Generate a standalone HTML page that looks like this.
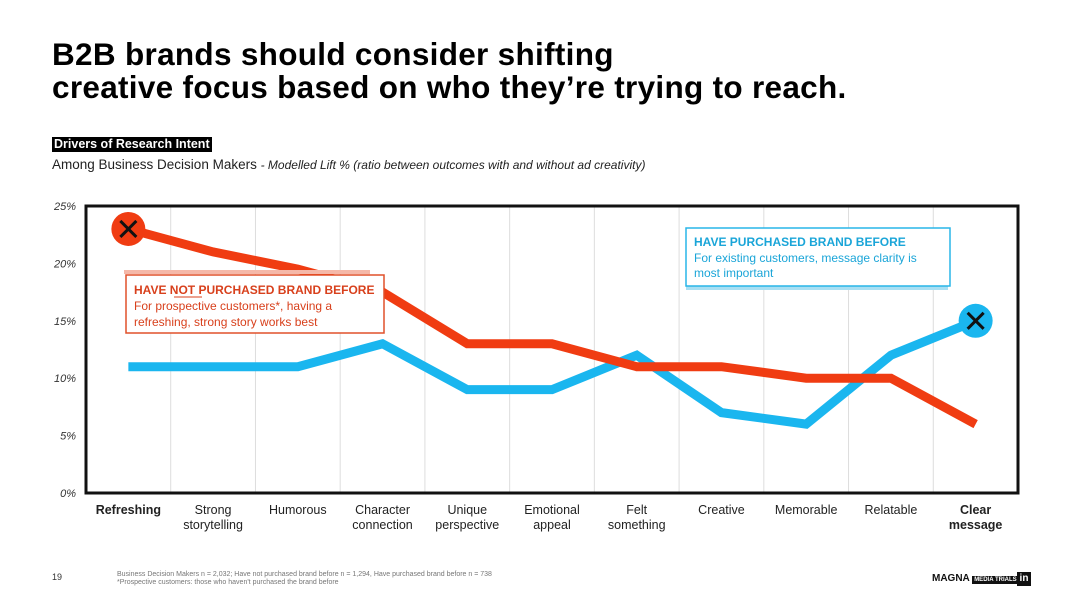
<!DOCTYPE html>
<html><head><meta charset="utf-8"><style>
body{margin:0;width:1080px;height:608px;background:#fff;font-family:"Liberation Sans",sans-serif;overflow:hidden;position:relative}
.t{position:absolute}
</style></head><body>
<div class="t" style="left:52px;top:38px;font-size:31.5px;font-weight:bold;line-height:33px;color:#000;letter-spacing:0.3px">B2B brands should consider shifting<br>creative focus based on who they’re trying to reach.</div>
<div class="t" style="left:52px;top:137px;background:#000;color:#fff;font-size:12.5px;font-weight:bold;padding:0 2px;line-height:15px">Drivers of Research Intent</div>
<div class="t" style="left:52px;top:157px;font-size:13.5px;color:#222">Among Business Decision Makers <i style="font-size:12px">- Modelled Lift % (ratio between outcomes with and without ad creativity)</i></div>
<svg class="t" style="left:0;top:0" width="1080" height="608">
<g id="g"></g>
</svg>
<div class="t" style="left:117px;top:571px;font-size:7px;color:#777;line-height:8px">Business Decision Makers n = 2,032; Have not purchased brand before n = 1,294, Have purchased brand before n = 738<br>*Prospective customers: those who haven't purchased the brand before</div>
<div class="t" style="left:52px;top:572px;font-size:9px;color:#333">19</div>
<div class="t" style="left:932px;top:573px;font-size:10px;font-weight:bold;color:#111;white-space:nowrap">MAGNA <span style="background:#111;color:#fff;font-size:6px;padding:1px 2px">MEDIA TRIALS</span></div>
<div class="t" style="left:1017px;top:572px;width:14px;height:14px;background:#111;color:#fff;font-size:10px;font-weight:bold;text-align:center;line-height:14px">in</div>
<script>
const categories=["Refreshing","Strong storytelling","Humorous","Character connection","Unique perspective","Emotional appeal","Felt something","Creative","Memorable","Relatable","Clear message"];
const notPurchased=[23,21,19.5,17.5,13,13,11,11,10,10,6];
const purchased=[11,11,11,13,9,9,12,7,6,12,15];
const yTicks=[0,5,10,15,20,25];
const NS="http://www.w3.org/2000/svg";
const g=document.getElementById('g');
const L=86,R=1018,T=206,B=493,step=(R-L)/categories.length;
const x=i=>L+step*(i+0.5), y=v=>B-(v/25)*(B-T);
function el(t,a,p){const e=document.createElementNS(NS,t);for(const k in a)e.setAttribute(k,a[k]);(p||g).appendChild(e);return e;}
for(let i=1;i<categories.length;i++){const l=el('line',{x1:L+step*i,x2:L+step*i,y1:T,y2:B,stroke:'#ddd','stroke-width':1});

}
yTicks.forEach(v=>{const t=el('text',{x:76,y:y(v)+4,'text-anchor':'end','font-size':11,'font-style':'italic',fill:'#333','font-family':'Liberation Sans'});t.textContent=v+'%';

});
categories.forEach((c,i)=>{const bold=(i==0||i==categories.length-1);const w=c.split(' ');const t=el('text',{x:x(i),y:514,'text-anchor':'middle','font-size':12.5,fill:'#222','font-weight':bold?'bold':'normal','font-family':'Liberation Sans'});


if(i==0){t.textContent=c;}else{w.forEach((s,j)=>{const ts=el('tspan',{x:x(i),dy:j?15:0},t);ts.textContent=s;});}});
function line(vals,col,name){const p=el('polyline',{points:vals.map((v,i)=>x(i)+','+y(v)).join(' '),fill:'none',stroke:col,'stroke-width':9,'stroke-linejoin':'miter'});

}
line(purchased,'#1ab6ef','line-purchased');
line(notPurchased,'#f03c12','line-not-purchased');
el('rect',{x:L,y:T,width:R-L,height:B-T,fill:'none',stroke:'#111','stroke-width':3});
function marker(i,v,col,name){const c=el('circle',{cx:x(i),cy:y(v),r:17,fill:col});


const X=x(i),Y=y(v);el('path',{d:`M${X-8} ${Y-8}L${X+8} ${Y+8}M${X+8} ${Y-8}L${X-8} ${Y+8}`,stroke:'#111','stroke-width':3});}
marker(0,notPurchased[0],'#f03c12','marker-not-purchased');
marker(10,purchased[10],'#1ab6ef','marker-purchased');
el('rect',{x:124,y:270,width:246,height:4,fill:'#f5b8a8'});
el('rect',{x:126,y:275,width:258,height:58,fill:'#fff',stroke:'#e0502a','stroke-width':1.5});
el('rect',{x:686,y:286,width:262,height:4,fill:'#a8dff3'});
el('rect',{x:686,y:228,width:264,height:58,fill:'#fff',stroke:'#29b6e8','stroke-width':1.5});
const txt=[[134,294,'HAVE NOT PURCHASED BRAND BEFORE','#d8401c','bold'],[134,310,'For prospective customers*, having a','#d8401c',''],[134,326,'refreshing, strong story works best','#d8401c',''],
[694,246,'HAVE PURCHASED BRAND BEFORE','#1aa5d8','bold'],[694,262,'For existing customers, message clarity is','#1aa5d8',''],[694,277,'most important','#1aa5d8','']];
txt.forEach(a=>{const t=el('text',{x:a[0],y:a[1],fill:a[3],'font-size':12,'font-weight':a[4],'font-family':'Liberation Sans'});t.textContent=a[2];

});
el('line',{x1:174,x2:202,y1:297,y2:297,stroke:'#d8401c','stroke-width':1});
</script>
</body></html>
